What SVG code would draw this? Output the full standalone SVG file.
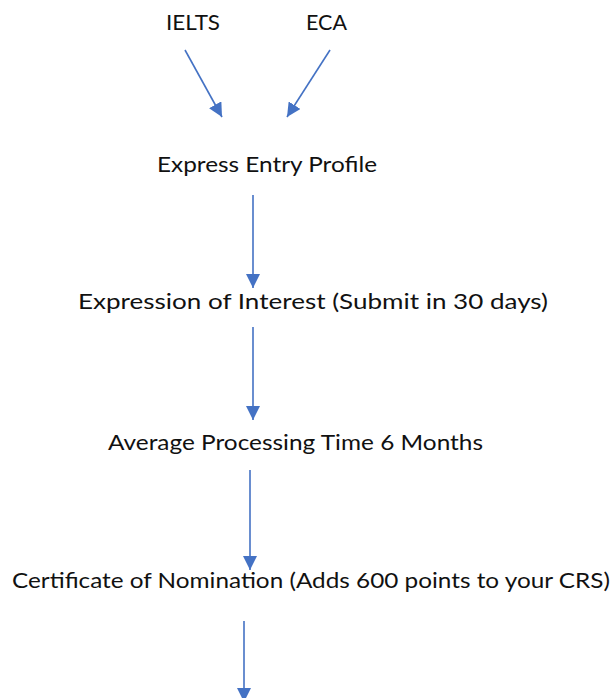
<svg xmlns="http://www.w3.org/2000/svg" width="613" height="698" viewBox="0 0 613 698">
<style>
text{font-family:Lato,"Open Sans","Liberation Sans",sans-serif;font-size:22px;fill:#111}
.c{stroke:#4472C4;stroke-width:1.6;fill:none}
</style>
<defs>
<marker id="ah" markerUnits="userSpaceOnUse" markerWidth="16" markerHeight="14" viewBox="0 0 16 14" refX="14" refY="7" orient="auto">
<path d="M0,0 L14,7 L0,14 z" fill="#4472C4"/>
</marker>
</defs>
<rect width="613" height="698" fill="#fff"/>
<g id="ielts"><text x="166" y="30" textLength="54" lengthAdjust="spacingAndGlyphs">IELTS</text></g>
<g id="eca"><text x="306" y="30" textLength="41" lengthAdjust="spacingAndGlyphs">ECA</text></g>
<g id="profile"><text x="157" y="172" textLength="220" lengthAdjust="spacingAndGlyphs">Express Entry Profile</text></g>
<g id="interest"><text x="78" y="309" textLength="470" lengthAdjust="spacingAndGlyphs">Expression of Interest (Submit in 30 days)</text></g>
<g id="processing"><text x="108" y="450" textLength="375" lengthAdjust="spacingAndGlyphs">Average Processing Time 6 Months</text></g>
<g id="nomination"><text x="12" y="588" textLength="598" lengthAdjust="spacingAndGlyphs">Certificate of Nomination (Adds 600 points to your CRS)</text></g>
<g id="connectors">
<line class="c" x1="185" y1="50" x2="222" y2="117" marker-end="url(#ah)"/>
<line class="c" x1="330" y1="50" x2="287" y2="117" marker-end="url(#ah)"/>
<line class="c" x1="253" y1="195" x2="253" y2="288" marker-end="url(#ah)"/>
<line class="c" x1="253" y1="327" x2="253" y2="420" marker-end="url(#ah)"/>
<line class="c" x1="250" y1="470" x2="250" y2="570" marker-end="url(#ah)"/>
<line class="c" x1="244" y1="621" x2="244" y2="702" marker-end="url(#ah)"/>
</g>
</svg>
